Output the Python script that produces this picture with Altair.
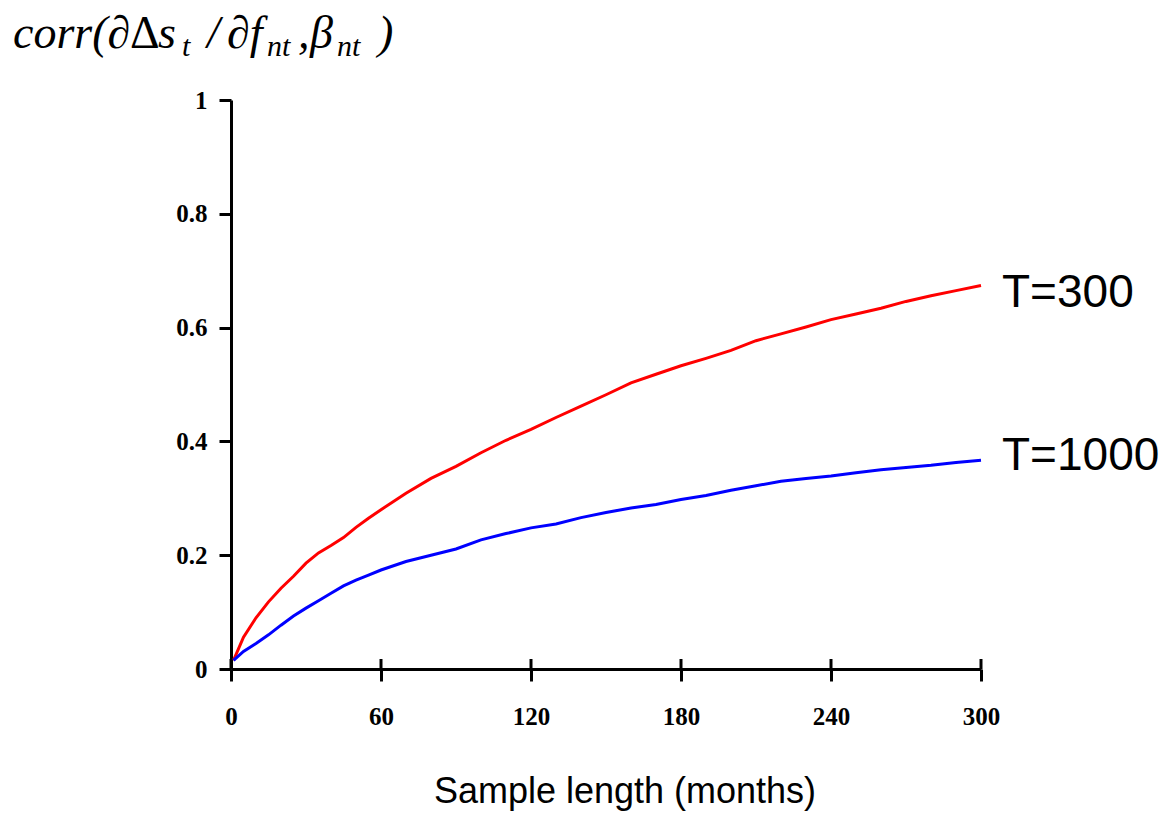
import altair as alt
import pandas as pd

months = [1, 5, 10, 15, 20, 25, 30, 35, 40, 45, 50, 55, 60, 70, 80, 90, 100, 110,
          120, 130, 140, 150, 160, 170, 180, 190, 200, 210, 220, 230, 240, 250,
          260, 270, 280, 290, 300]
t300 = [0.015, 0.056, 0.090, 0.118, 0.142, 0.163, 0.186, 0.204, 0.217, 0.231, 0.249,
        0.265, 0.280, 0.309, 0.335, 0.356, 0.380, 0.402, 0.421, 0.442, 0.462, 0.482,
        0.503, 0.518, 0.533, 0.546, 0.560, 0.577, 0.589, 0.601, 0.614, 0.624, 0.634,
        0.646, 0.656, 0.665, 0.674]
t1000 = [0.015, 0.031, 0.045, 0.060, 0.077, 0.093, 0.107, 0.120, 0.133, 0.146, 0.156,
         0.165, 0.174, 0.189, 0.200, 0.211, 0.227, 0.238, 0.248, 0.255, 0.266, 0.275,
         0.283, 0.289, 0.298, 0.305, 0.314, 0.322, 0.330, 0.335, 0.339, 0.345, 0.350,
         0.354, 0.358, 0.363, 0.367]
x_ticks = [0, 60, 120, 180, 240, 300]
y_ticks = [0, 0.2, 0.4, 0.6, 0.8, 1]
series_labels = ["T=300", "T=1000"]
x_title = "Sample length (months)"
title_parts = [
    ("corr(\u2202", "main", "italic"),
    ("\u0394", "main", "normal"),
    ("s", "main", "italic"),
    ("t", "sub", "italic"),
    ("/", "main", "italic"),
    ("\u2202f", "main", "italic"),
    ("nt", "sub", "italic"),
    (",", "main", "italic"),
    ("\u03b2", "main", "italic"),
    ("nt", "sub", "italic"),
    (")", "main", "italic"),
]

W, H = 750, 569
df300 = pd.DataFrame({"month": months, "corr": t300})
df1000 = pd.DataFrame({"month": months, "corr": t1000})

xscale = alt.Scale(domain=[0, 300], nice=False, zero=False)
yscale = alt.Scale(domain=[0, 1], nice=False)

xaxis = alt.Axis(values=x_ticks, title=None, grid=False, domainColor="black",
                 domainWidth=3, tickColor="black", tickWidth=3, tickSize=12,
                 labelFont="Liberation Serif", labelFontWeight="bold",
                 labelFontSize=25, labelColor="black", labelPadding=23,
                 labelFlush=False, format="d")
yaxis = alt.Axis(values=y_ticks, title=None, grid=False, domainColor="black",
                 domainWidth=3, tickColor="black", tickWidth=3, tickSize=12,
                 labelFont="Liberation Serif", labelFontWeight="bold",
                 labelFontSize=25, labelColor="black", labelPadding=12,
                 labelFlush=False, format="~g")

red = alt.Chart(df300).mark_line(color="#ff0000", strokeWidth=3).encode(
    x=alt.X("month:Q", scale=xscale, axis=xaxis),
    y=alt.Y("corr:Q", scale=yscale, axis=yaxis),
)
blue = alt.Chart(df1000).mark_line(color="#0000ff", strokeWidth=3).encode(
    x=alt.X("month:Q", scale=xscale),
    y=alt.Y("corr:Q", scale=yscale),
)

# upward half of the crossing x ticks
tick_up = alt.Chart(pd.DataFrame({"tick": x_ticks})).mark_rule(
    color="black", strokeWidth=3).encode(
    x=alt.X("tick:Q", scale=xscale),
    y=alt.value(H - 10),
    y2=alt.value(H),
)

def text_layer(txt, x, y, size, font, style="normal", align="left"):
    return alt.Chart(pd.DataFrame({"label": [txt]})).mark_text(
        font=font, fontSize=size, fontStyle=style, align=align,
        baseline="alphabetic", color="black").encode(
        text="label:N", x=alt.value(x), y=alt.value(y))

layers = [red, blue, tick_up]
layers.append(text_layer(series_labels[0], 771, 207, 46, "Liberation Sans"))
layers.append(text_layer(series_labels[1], 771, 370, 46, "Liberation Sans"))
layers.append(text_layer(x_title, 394, 703, 36, "Liberation Sans", align="center"))

# title pieces (math style)
title_x = [-218, -101, -73, -49, -24, -4, 36, 67, 79, 106, 147]
for (txt, kind, style), xp in zip(title_parts, title_x):
    if kind == "main":
        layers.append(text_layer(txt, xp, -52, 46, "Liberation Serif", style=style))
    else:
        layers.append(text_layer(txt, xp, -44, 30, "Liberation Serif", style=style))

chart = alt.layer(*layers).properties(
    width=W, height=H,
    autosize=alt.AutoSizeParams(type="none"),
    padding={"left": 223, "top": 92, "right": 178, "bottom": 146},
).configure_view(stroke="transparent")

chart.save("out.html", embed_options={"renderer": "svg", "actions": False})
